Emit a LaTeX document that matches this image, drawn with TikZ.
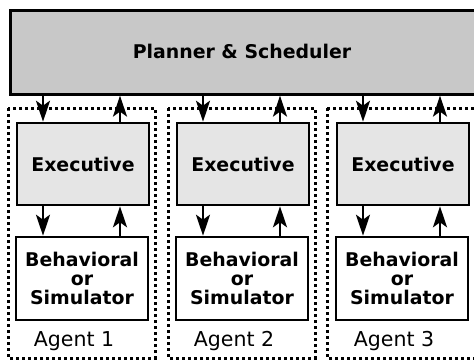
\documentclass[tikz,border=0pt]{standalone}
\usepackage{fontspec}
\setmainfont{DejaVu Sans}
\usetikzlibrary{arrows.meta}
\begin{document}
\begin{tikzpicture}[x=1pt,y=-1pt,
  boxline/.style={draw=black,line width=2.6pt},
  boldtext/.style={font=\fontsize{18.9}{18.6}\selectfont\bfseries},
  planbox/.style={boxline,fill={rgb,255:red,200;green,200;blue,200},inner sep=0pt},
  execbox/.style={boxline,boldtext,fill={rgb,255:red,229;green,229;blue,229},minimum width=132pt,minimum height=82pt,inner sep=0pt},
  simbox/.style={boxline,boldtext,fill=white,minimum width=132pt,minimum height=83pt,inner sep=0pt,align=center},
  agentframe/.style={draw=black,line width=3pt,dash pattern=on 3pt off 3pt},
  agentlabel/.style={font=\fontsize{20.5}{21}\selectfont,inner sep=0pt},
  arr/.style={line width=2.2pt,-{Stealth[length=21pt,width=14pt,inset=5pt]}}]
\useasboundingbox (0,0) rectangle (474,360);
\fill[white] (0,0) rectangle (474,360);

% planner spanning all agents (runs off the right edge)
\node[planbox,minimum width=470pt,minimum height=84pt,anchor=north west] (planner) at (9,9) {};
\node[boldtext] (plantext) at (242,51) {Planner \& Scheduler};

% dotted agent frames
\draw[agentframe] (8,108) rectangle (155,358);
\draw[agentframe] (168,108) rectangle (315,358);
\draw[agentframe] (327,108) -- (480,108);
\draw[agentframe] (327,108) -- (327,358) -- (480,358);

\foreach \i/\cx in {1/83,2/243,3/403}{
  \node[execbox] (exec\i) at (\cx,164) {Executive};
  \node[simbox] (sim\i) at (\cx-1,278.5) {Behavioral\\or\\Simulator};
  \node[agentlabel] (lab\i) at (\cx-9,341) {Agent \i};
  \draw[arr] ([xshift=-40pt]exec\i.north |- planner.south) -- ([xshift=-40pt]exec\i.north);
  \draw[arr] ([xshift=37pt]exec\i.north) -- ([xshift=37pt]exec\i.north |- planner.south);
  \draw[arr] ([xshift=-40pt]exec\i.south) -- ([xshift=-40pt]exec\i.south |- sim\i.north);
  \draw[arr] ([xshift=37pt]exec\i.south |- sim\i.north) -- ([xshift=37pt]exec\i.south);
}
\end{tikzpicture}
\end{document}
